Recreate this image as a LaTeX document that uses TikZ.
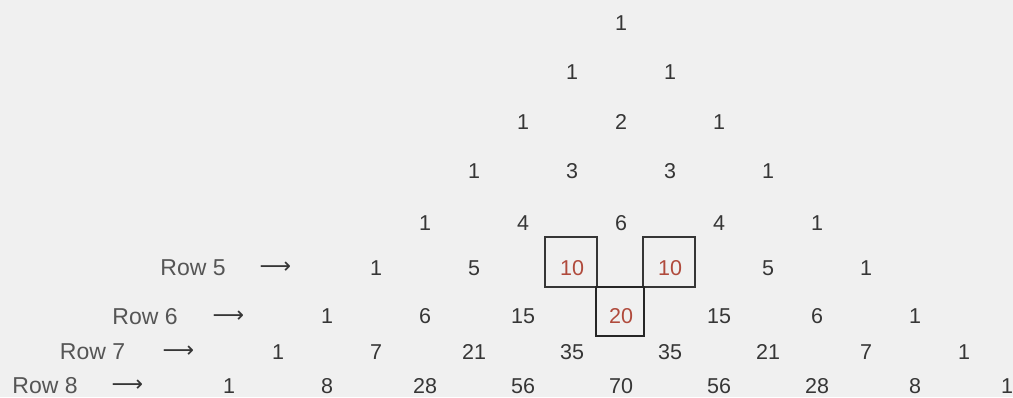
\documentclass[tikz,border=0pt]{standalone}
\usepackage{fontspec}
\setmainfont{Liberation Sans}
\newfontfamily\arrowfont{DejaVu Sans}
\definecolor{ink}{HTML}{363636}
\definecolor{lblink}{HTML}{555555}
\definecolor{redink}{HTML}{B04A3C}
\definecolor{paper}{HTML}{F0F0F0}
\begin{document}
\begin{tikzpicture}[x=1pt,y=-1pt,
  num/.style={text=ink,font=\fontsize{21.5}{24}\selectfont,inner sep=0pt},
  rednum/.style={num,text=redink},
  lbl/.style={text=lblink,font=\fontsize{23}{26}\selectfont,inner sep=0pt},
  arr/.style={text=ink,font=\arrowfont\fontsize{22}{24}\selectfont,inner sep=0pt},
  box/.style={draw=ink,line width=1.4pt,minimum width=52pt,minimum height=50pt,inner sep=0pt},
  boldbox/.style={draw=black!85,line width=2.6pt,minimum width=48pt,minimum height=49pt,inner sep=0pt}]
\fill[paper] (0,0) rectangle (1013,397);
\useasboundingbox (0,0) rectangle (1013,397);
% rows of the triangle
\foreach \r/\yy/\vals in {
  0/23.5/{1/num},
  1/72/{1/num,1/num},
  2/122/{1/num,2/num,1/num},
  3/171/{1/num,3/num,3/num,1/num},
  4/223/{1/num,4/num,6/num,4/num,1/num},
  5/268/{1/num,5/num,10/rednum,10/rednum,5/num,1/num},
  6/316/{1/num,6/num,15/num,20/rednum,15/num,6/num,1/num},
  7/352/{1/num,7/num,21/num,35/num,35/num,21/num,7/num,1/num},
  8/386/{1/num,8/num,28/num,56/num,70/num,56/num,28/num,8/num}}{
  \foreach \v/\s [count=\k from 0] in \vals {
    \node[\s] (n-\r-\k) at ({621+(2*\k-\r)*49},\yy) {\v};
  }
}
\node[num] (n-8-8) at (1007,386) {1};
% row labels and arrows
\node[lbl] (l5) at (193,268) {Row 5};
\node[arr] (a5) at (275.5,268) {⟶};
\node[lbl] (l6) at (145,317) {Row 6};
\node[arr] (a6) at (228.5,317) {⟶};
\node[lbl] (l7) at (92.5,352) {Row 7};
\node[arr] (a7) at (178.5,352) {⟶};
\node[lbl] (l8) at (45,386) {Row 8};
\node[arr] (a8) at (127.5,386) {⟶};
% boxes
\node[box] (boxL) at (571,262) {};
\node[box] (boxR) at (669,262) {};
\node[boldbox] (boxC) at (620,311.5) {};
\end{tikzpicture}
\end{document}
